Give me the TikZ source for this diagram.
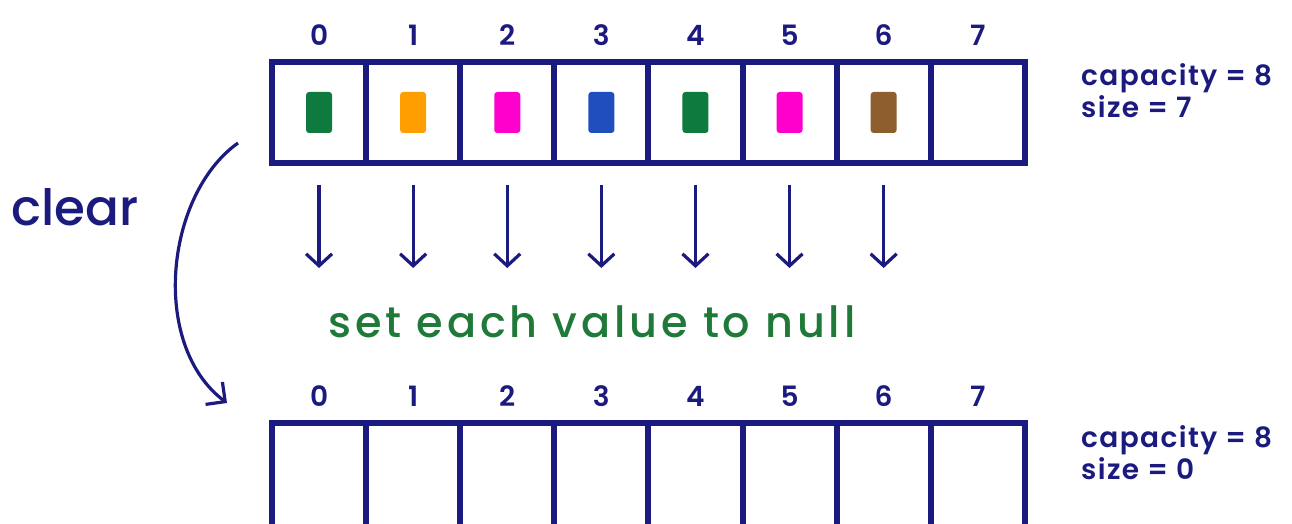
\documentclass[tikz,border=0pt]{standalone}
\usepackage{fontspec}
\setmainfont{Poppins}[UprightFont=* Medium, BoldFont=* SemiBold]
\usetikzlibrary{positioning,arrows.meta}
\definecolor{inknavy}{HTML}{1B1A7E}
\definecolor{inkgreen}{HTML}{1F7A3A}
\definecolor{chipgreen}{HTML}{0E7A3E}
\definecolor{chiporange}{HTML}{FF9E00}
\definecolor{chipmagenta}{HTML}{FF00CC}
\definecolor{chipblue}{HTML}{1F4FBF}
\definecolor{chipbrown}{HTML}{8E5E2E}

\begin{document}
\begin{tikzpicture}[
    x=0.5pt, y=-0.5pt,
    cell/.style={draw=inknavy, line width=3pt, inner sep=0pt, outer sep=0pt,
                 minimum width=47.05pt, minimum height=#1},
    cell/.default=50.5pt,
    chip/.style={fill=#1, rounded corners=1.5pt, inner sep=0pt,
                 minimum width=13pt, minimum height=20.5pt},
    idx/.style={font=\fontsize{14}{16}\selectfont\bfseries, text=inknavy, inner sep=0pt},
    info/.style={font=\fontsize{14}{16}\selectfont\bfseries\addfontfeatures{LetterSpace=5}, text=inknavy, align=left, inner sep=0pt},
    down/.style={draw=inknavy, line width=1.6pt, -{Straight Barb[length=6pt, width=13pt]}},
    sweep/.style={draw=inknavy, line width=1.6pt, -{Straight Barb[length=7pt, width=14pt]}}
]
    \useasboundingbox (0,0) rectangle (1292,524);

    % Arrays: before and after
    \foreach \i in {0,...,7} {
        \node[cell] (t\i) at (319.05+94.1*\i, 112.5) {};
        \node[cell=54pt] (b\i) at (319.05+94.1*\i, 477) {};
        \node[idx, above=8pt of t\i] (ti\i) {\i};
        \node[idx, above=8pt of b\i] (bi\i) {\i};
    }

    % Stored values
    \foreach \i/\c in {0/chipgreen, 1/chiporange, 2/chipmagenta, 3/chipblue,
                       4/chipgreen, 5/chipmagenta, 6/chipbrown} {
        \node[chip=\c] (c\i) at (t\i) {};
    }

    % Each value set to null
    \foreach \i in {0,...,6} {
        \draw[down, shorten <=11pt, shorten >=77.5pt] (t\i.south) -- (b\i.north);
    }
    \node[font=\fontsize{21.5}{24}\selectfont\addfontfeatures{LetterSpace=9},
          text=inkgreen] (nullnote) at (592,322)
        {set each value to null};

    % clear operation
    \coordinate (clrA) at (238,143);
    \coordinate (clrB) at (227,403);
    \draw[sweep] (clrA) .. controls (165,195) and (150,345) .. (clrB);
    \node[font=\fontsize{25}{28}\selectfont, text=inknavy] (clearlbl) at (75,207) {clear};

    % Side annotations
    \node[info, right=28pt of t7, yshift=11pt] (capTop) {capacity = 8\\size = 7};
    \node[info, right=28pt of b7, yshift=12pt] (capBot) {capacity = 8\\size = 0};
\end{tikzpicture}
\end{document}
